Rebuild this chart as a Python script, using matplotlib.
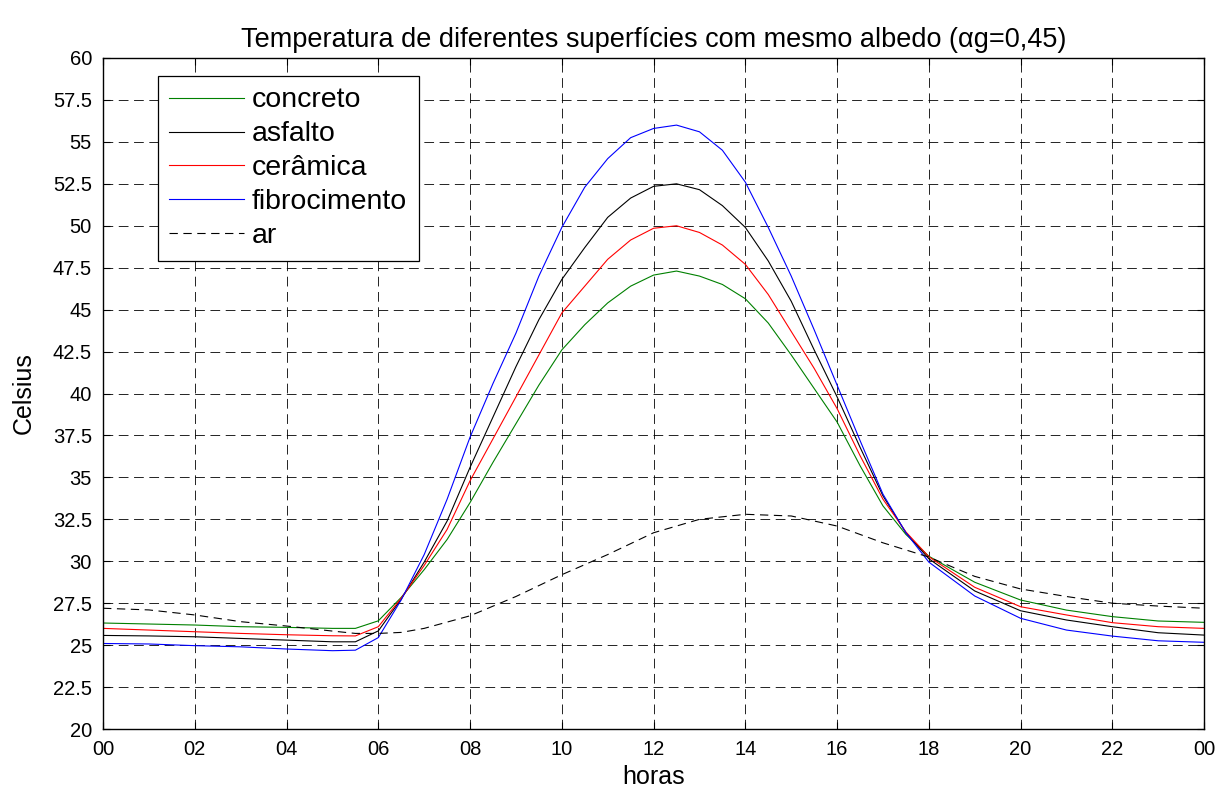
import numpy as np
import matplotlib
matplotlib.use("Agg")
import matplotlib.pyplot as plt

plt.rcParams['font.family'] = ['Liberation Sans', 'DejaVu Sans']
plt.rcParams['lines.scale_dashes'] = False

# hours (hourly at night, half-hourly during the day)
hours = [0, 1, 2, 3, 4, 5, 5.5,
         6, 6.5, 7, 7.5, 8, 8.5, 9, 9.5, 10, 10.5, 11, 11.5, 12, 12.5,
         13, 13.5, 14, 14.5, 15, 15.5, 16, 16.5, 17, 17.5, 18,
         19, 20, 21, 22, 23, 24]

concreto = [26.32, 26.26, 26.2, 26.1, 26.06, 26.0, 26.0,
            26.45, 27.85, 29.5, 31.3, 33.5, 35.9, 38.2, 40.5, 42.6, 44.1, 45.4, 46.4, 47.06, 47.3,
            47.0, 46.5, 45.65, 44.2, 42.3, 40.3, 38.3, 35.7, 33.3, 31.6, 30.3,
            28.75, 27.69, 27.09, 26.7, 26.44, 26.36]

asfalto = [25.58, 25.55, 25.5, 25.4, 25.3, 25.2, 25.2,
           25.85, 27.75, 29.95, 32.4, 35.6, 38.6, 41.6, 44.4, 46.8, 48.7, 50.5, 51.65, 52.35, 52.5,
           52.15, 51.2, 49.9, 47.9, 45.5, 42.6, 39.8, 36.8, 33.9, 31.7, 30.15,
           28.23, 27.05, 26.5, 26.1, 25.74, 25.6]

ceramica = [26.0, 25.9, 25.8, 25.7, 25.62, 25.56, 25.55,
            26.1, 27.8, 29.75, 31.9, 34.8, 37.3, 39.8, 42.3, 44.8, 46.4, 48.0, 49.15, 49.85, 50.0,
            49.6, 48.85, 47.7, 45.9, 43.7, 41.5, 39.1, 36.3, 33.7, 31.75, 30.27,
            28.45, 27.29, 26.8, 26.34, 26.1, 26.0]

fibrocimento = [25.1, 25.07, 24.97, 24.9, 24.77, 24.67, 24.7,
                25.45, 27.7, 30.4, 33.7, 37.4, 40.6, 43.6, 47.0, 49.9, 52.3, 54.0, 55.25, 55.8, 56.0,
                55.6, 54.5, 52.6, 49.9, 47.0, 43.8, 40.5, 37.2, 34.0, 31.7, 29.95,
                27.93, 26.6, 25.9, 25.54, 25.26, 25.17]

ar_hours = [0, 1, 2, 3, 4, 5, 5.5, 6, 6.5, 7, 8, 9, 10, 11, 12, 13, 14, 15, 16, 17, 18,
            19, 20, 21, 22, 23, 24]
ar = [27.2, 27.1, 26.8, 26.4, 26.14, 25.84, 25.7, 25.7, 25.76, 26.0, 26.75, 27.9, 29.2, 30.4,
      31.7, 32.5, 32.8, 32.7, 32.1, 31.1, 30.25, 29.1, 28.35, 27.9, 27.5, 27.33, 27.2]

xticks = list(range(0, 25, 2))
xlabels = ['00', '02', '04', '06', '08', '10', '12', '14', '16', '18', '20', '22', '00']
yticks = np.arange(20, 60.01, 2.5)

fig = plt.figure(figsize=(12.18, 7.89), dpi=100)
ax = fig.add_axes([0.0846, 0.076, 0.904, 0.8505])

lw = 0.8
ax.plot(hours, concreto, color='#008000', lw=lw, label='concreto')
ax.plot(hours, asfalto, color='black', lw=lw, label='asfalto')
ax.plot(hours, ceramica, color='red', lw=lw, label='cerâmica')
ax.plot(hours, fibrocimento, color='blue', lw=lw, label='fibrocimento')
ax.plot(ar_hours, ar, color='black', lw=lw, linestyle=(0, (6, 4)), label='ar')

ax.set_xlim(0, 24)
ax.set_ylim(20, 60)
ax.set_xticks(xticks)
ax.set_xticklabels(xlabels)
ax.set_yticks(yticks)
ax.set_yticklabels([f'{v:g}' for v in yticks])

ax.grid(True, color='black', linestyle=(0, (7, 4)), linewidth=0.6)
ax.tick_params(direction='in', length=5, width=0.8, labelsize=14.5, pad=8,
               top=True, right=True)
for s in ax.spines.values():
    s.set_linewidth(1.0)

ax.set_title('Temperatura de diferentes superfícies com mesmo albedo (αg=0,45)',
             fontsize=19.5, pad=8)
ax.set_xlabel('horas', fontsize=18, labelpad=4)
ax.set_ylabel('Celsius', fontsize=18, labelpad=12)

leg = ax.legend(loc='upper left', bbox_to_anchor=(0.05, 0.973), borderaxespad=0,
                fontsize=20.5, handlelength=2.6, handletextpad=0.3,
                borderpad=0.4, labelspacing=0.28, fancybox=False,
                edgecolor='black', framealpha=1)
leg.get_frame().set_linewidth(0.9)

fig.savefig('out.png', dpi=100)
